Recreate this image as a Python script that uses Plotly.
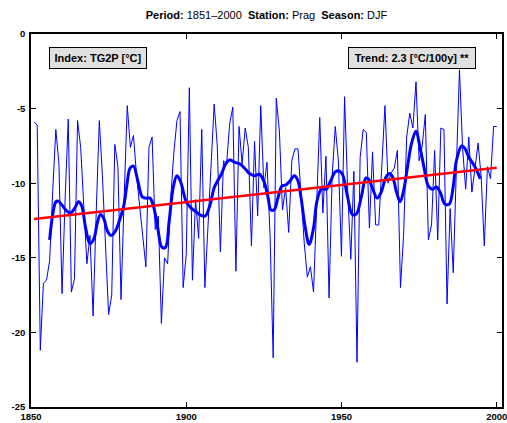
import plotly.graph_objects as go

# annual DJF means of TG2P, Prag
years = list(range(1851, 2001))
values = [
    -5.9, -6.1, -21.2, -16.7, -16.5, -15.2, -10.5, -6.4, -8.7, -17.4,
    -11.0, -5.7, -17.3, -16.4, -5.8, -7.6, -11.5, -15.4, -13.5, -18.9,
    -12.0, -5.8, -9.5, -14.0, -18.8, -17.5, -7.4, -8.9, -17.8, -11.0,
    -4.8, -7.6, -6.8, -9.5, -11.5, -13.5, -15.6, -7.6, -6.9, -13.1,
    -12.2, -19.4, -15.0, -15.4, -11.0, -8.0, -5.8, -5.2, -17.0, -14.8,
    -3.6, -16.5, -11.1, -13.7, -6.4, -17.0, -13.0, -9.0, -4.7, -7.5,
    -14.6, -8.5, -8.7, -6.0, -4.9, -15.9, -6.2, -8.7, -6.3, -7.6,
    -14.2, -7.2, -12.2, -4.8, -10.3, -8.6, -13.5, -21.7, -4.3, -6.5,
    -11.8, -10.3, -13.3, -8.5, -7.7, -7.7, -11.0, -14.0, -16.3, -15.6,
    -17.3, -11.5, -5.6, -12.0, -8.2, -17.7, -9.5, -6.2, -8.5, -14.9,
    -4.2, -10.5, -15.1, -9.2, -22.0, -8.3, -6.4, -6.6, -13.0, -7.9,
    -12.8, -12.8, -9.0, -4.8, -10.0, -9.3, -9.0, -7.8, -17.0, -13.5,
    -6.9, -5.3, -6.3, -3.2, -8.5, -7.5, -5.4, -13.8, -12.8, -7.8,
    -13.8, -6.3, -6.4, -18.1, -11.7, -16.0, -9.0, -2.4, -7.6, -10.4,
    -6.9, -10.6, -9.0, -7.3, -9.6, -14.2, -8.9, -9.7, -6.2, -6.2,
]

# smoothed curve
smooth_years = [
    1856.0, 1857.0, 1858.0, 1858.8, 1860.1, 1861.7, 1862.8, 1864.0, 1865.3, 1866.3,
    1867.6, 1869.0, 1870.3, 1871.3, 1872.4, 1873.5, 1874.6, 1875.8, 1877.2, 1878.8,
    1879.9, 1880.9, 1881.9, 1883.0, 1884.4, 1885.8, 1887.0, 1888.3, 1889.4, 1890.8,
    1892.2, 1893.3, 1894.5, 1895.8, 1897.0, 1898.3, 1899.9, 1901.5, 1903.1, 1904.7,
    1906.1, 1907.6, 1909.0, 1910.2, 1911.3, 1912.7, 1914.0, 1915.6, 1917.2, 1918.8,
    1920.4, 1922.0, 1923.6, 1925.0, 1926.3, 1927.3, 1928.4, 1929.5, 1930.8, 1932.2,
    1933.4, 1934.8, 1935.9, 1937.0, 1938.2, 1939.6, 1941.0, 1942.1, 1943.5, 1945.1,
    1946.4, 1948.2, 1950.0, 1951.8, 1953.5, 1954.8, 1956.4, 1957.9, 1958.8, 1960.1,
    1961.5, 1962.8, 1964.3, 1965.5, 1966.5, 1967.8, 1968.9, 1970.2, 1971.2, 1972.6,
    1974.0, 1975.3, 1976.6, 1978.0, 1979.4, 1980.6, 1981.9, 1983.3, 1984.7, 1986.0,
    1987.0, 1988.7, 1989.7, 1991.1, 1992.4, 1993.7, 1994.7,
]
smooth_vals = [
    -13.8, -12.1, -11.25, -11.2, -11.5, -11.9, -12.0, -11.7, -11.25, -11.5,
    -13.0, -14.05, -13.7, -12.7, -12.1, -12.4, -13.2, -13.5, -13.2, -12.3,
    -11.5, -10.1, -9.0, -8.85, -9.85, -10.9, -11.0, -11.0, -11.5, -13.0,
    -14.3, -14.3, -12.55, -10.3, -9.5, -9.97, -11.2, -11.65, -11.9, -12.15,
    -12.2, -11.5, -10.3, -9.8, -9.4, -8.7, -8.45, -8.6, -8.7, -9.0,
    -9.35, -9.5, -9.4, -9.86, -10.9, -11.8, -11.75, -11.0, -10.2, -10.1,
    -9.86, -9.5, -9.8, -11.0, -12.8, -14.1, -13.0, -11.2, -10.4, -10.4,
    -9.9, -9.2, -9.3, -10.75, -12.1, -12.05, -10.9, -9.65, -9.75, -10.4,
    -11.0, -10.6, -9.6, -9.35, -9.6, -10.65, -11.25, -10.3, -9.0, -7.3,
    -6.5, -7.6, -8.96, -10.2, -10.4, -10.25, -10.65, -11.4, -11.4, -10.2,
    -8.5, -7.5, -7.65, -8.3, -8.7, -9.2, -9.7,
]

trend_years = [1851, 2000]
trend_vals = [-12.4, -8.97]

x_ticks = [1850, 1900, 1950, 2000]
x_labels = ["<b>1850</b>", "<b>1900</b>", "<b>1950</b>", "<b>2000</b>"]
y_ticks = [-25, -20, -15, -10, -5, 0]
y_labels = ["<b>-25</b>", "<b>-20</b>", "<b>-15</b>", "<b>-10</b>", "<b>-5</b>", "<b>0</b>"]

FONT = "Liberation Sans, Arial, sans-serif"

fig = go.Figure()
fig.add_trace(go.Scatter(x=years, y=values, mode="lines",
                         line=dict(color="#0000ff", width=1)))
fig.add_trace(go.Scatter(x=smooth_years, y=smooth_vals, mode="lines",
                         line=dict(color="#0000ff", width=3, shape="spline")))
fig.add_trace(go.Scatter(x=trend_years, y=trend_vals, mode="lines",
                         line=dict(color="#ff0000", width=2.5)))

axis_common = dict(
    showgrid=False, zeroline=False, showline=True, linecolor="black",
    linewidth=1.5, mirror="ticks", ticks="inside", ticklen=5,
    tickcolor="black", tickwidth=1, automargin=False,
    ticklabeloverflow="allow",
    tickfont=dict(family=FONT, size=9.5, color="black"),
)

fig.update_layout(
    width=507, height=423,
    margin=dict(l=31, r=5, t=34, b=16),
    paper_bgcolor="white", plot_bgcolor="white",
    showlegend=False,
    title=dict(
        text="<b>Period:</b> 1851\u20132000  <b>Station:</b> Prag  <b>Season:</b> DJF",
        x=0.5, xref="paper", xanchor="center",
        y=1 - 15 / 423, yref="container", yanchor="middle",
        font=dict(family=FONT, size=11, color="black"),
    ),
    xaxis=dict(range=[1850, 2001.7], tickvals=x_ticks, ticktext=x_labels,
               ticklabelstandoff=0, **axis_common),
    yaxis=dict(range=[-25, 0], tickvals=y_ticks, ticktext=y_labels,
               ticklabelstandoff=2, **axis_common),
)

box = dict(xref="paper", yref="paper", showarrow=False, yanchor="top",
           bgcolor="#e0e0e0", bordercolor="black", borderwidth=1, borderpad=0,
           height=20, font=dict(family=FONT, size=11, color="black"))
fig.add_annotation(text="<b>Index: TG2P [°C]</b>", x=(49 - 31) / 471, xanchor="left",
                   y=(407 - 47) / 373, width=96, **box)
fig.add_annotation(text="<b>Trend: 2.3 [°C/100y] **</b>", x=(348 - 31) / 471,
                   xanchor="left", y=(407 - 47) / 373, width=126, **box)

# the page's default body margin would shift the 507x423 figure
fig.write_html("out.html", config={"displayModeBar": False},
               post_script="document.body.style.margin = '0px';")
